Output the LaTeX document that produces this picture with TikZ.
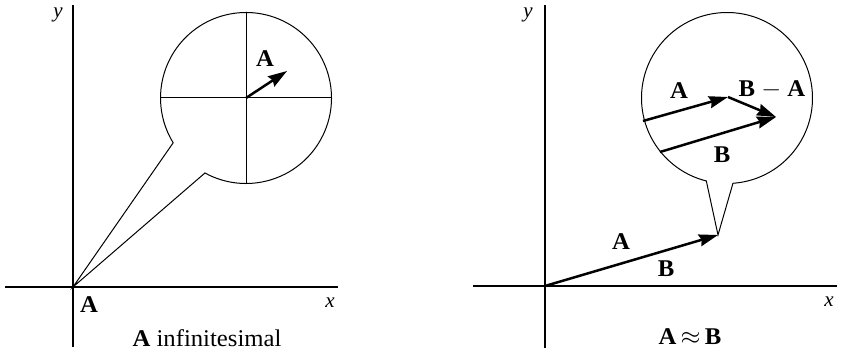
\documentclass[tikz,border=0pt]{standalone}
\usepackage{fontspec}
\setmainfont{Liberation Serif}
\usetikzlibrary{arrows.meta}
\newcommand{\stretchtxt}[1]{\scalebox{1.03}[1]{#1}}
\begin{document}
\begin{tikzpicture}[x=1pt,y=1pt,
  thinline/.style={line width=1pt, line join=miter},
  axis/.style={line width=1.1pt},
  vec/.style={line width=2.5pt, -{Stealth[length=19pt,width=12pt,inset=2pt]}},
  lbl/.style={font=\fontsize{24}{28}\selectfont, inner sep=0pt},
  axlbl/.style={font=\fontsize{21}{24}\selectfont, inner sep=0pt},
]
\useasboundingbox (0,0) rectangle (841,356);

% ---------- left panel ----------
\coordinate (O1) at (73,69);
\coordinate (C1) at (246,258);
\coordinate (L1y0) at (73,9);
\coordinate (L1y1) at (73,351);
\coordinate (L1x0) at (5,69);
\coordinate (L1x1) at (338,69);
\draw[axis] (L1y0) -- (L1y1);
\draw[axis] (L1x0) -- (L1x1);

% bubble
\draw[thinline] (C1) ++(241.3:85.5) coordinate (P2)
   arc[start angle=241.3, end angle=571.6, radius=85.5] coordinate (P1)
   -- (O1) -- cycle;
% cross
\coordinate (CrT) at (246,343.5);
\coordinate (CrB) at (246,172.5);
\coordinate (CrL) at (160.5,258);
\coordinate (CrR) at (331.5,258);
\draw[thinline] (CrT) -- (CrB);
\draw[thinline] (CrL) -- (CrR);
\coordinate (A1tip) at (287,285);
\draw[vec] (C1) -- (A1tip);

\node[axlbl] (ly1) at (58,341) {\textit{y}};
\node[axlbl] (lx1) at (330,53) {\textit{x}};
\node[lbl] (lA0) at (89,51) {\stretchtxt{\textbf{A}}};
\node[lbl] (lA1) at (265,297) {\stretchtxt{\textbf{A}}};
\node[lbl] (cap1) at (207,18) {\stretchtxt{\textbf{A} infinitesimal}};

% ---------- right panel ----------
\coordinate (O2) at (545,70);
\coordinate (C2) at (727,258);
\coordinate (T) at (718,121);
\coordinate (R2y0) at (545,8);
\coordinate (R2y1) at (545,351);
\coordinate (R2x0) at (473,70);
\coordinate (R2x1) at (837,70);
\draw[axis] (R2y0) -- (R2y1);
\draw[axis] (R2x0) -- (R2x1);

\draw[thinline] (C2) ++(274:85.5) coordinate (Q1)
   arc[start angle=274, end angle=616, radius=85.5] coordinate (Q2)
   -- (T) -- cycle;

\draw[vec] (O2) -- (T);

\coordinate (IA0) at (643,235);
\coordinate (IA1) at (728,259);
\coordinate (IB0) at (660,204);
\coordinate (IB1) at (776,239);
\draw[vec] (IA0) -- (IA1);
\draw[vec] (IB0) -- (IB1);
\draw[vec] (IA1) -- (IB1);

\node[axlbl] (ly2) at (528,341) {\textit{y}};
\node[axlbl] (lx2) at (829,54) {\textit{x}};
\node[lbl] (lA2) at (621,114) {\stretchtxt{\textbf{A}}};
\node[lbl] (lB2) at (666,87) {\stretchtxt{\textbf{B}}};
\node[lbl] (iA) at (679,265) {\stretchtxt{\textbf{A}}};
\node[lbl] (iBA) at (772,266) {\stretchtxt{\textbf{B} $-$ \textbf{A}}};
\node[lbl] (iB) at (722,201) {\stretchtxt{\textbf{B}}};
\node[lbl] (cap2) at (690,19) {\stretchtxt{\textbf{A}$\,\approx\,$\textbf{B}}};
\end{tikzpicture}
\end{document}
